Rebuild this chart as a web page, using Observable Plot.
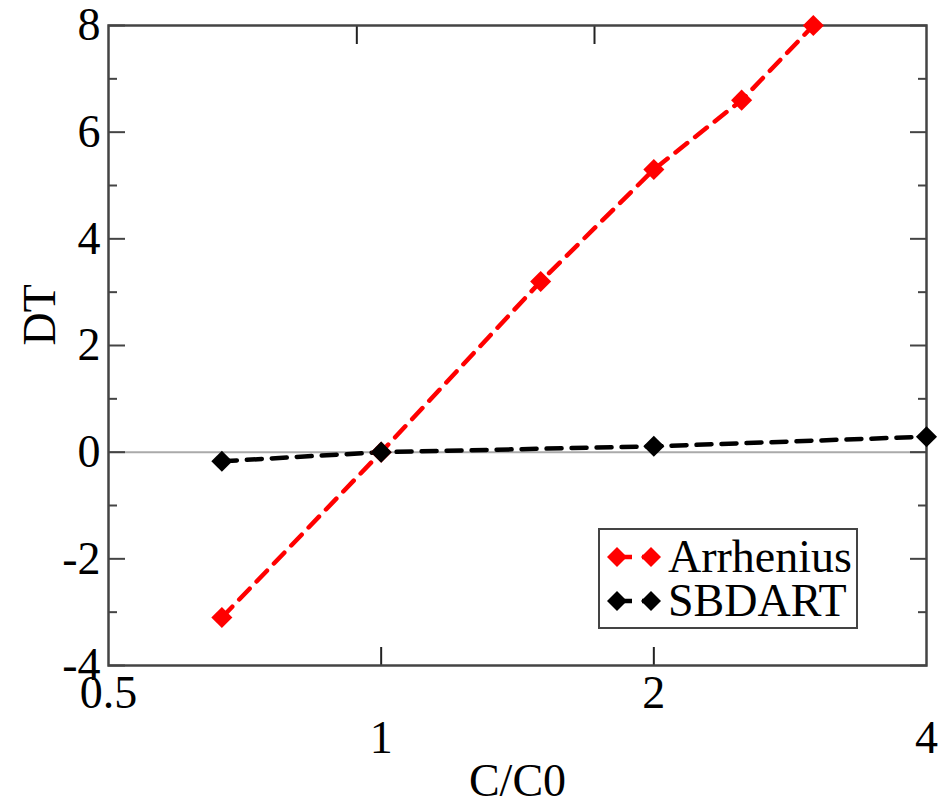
<!DOCTYPE html>
<html>
<head>
<meta charset="utf-8">
<script src="https://cdn.jsdelivr.net/npm/d3@7"></script>
<script src="https://cdn.jsdelivr.net/npm/@observablehq/plot@0.6"></script>
<style>
  body { margin: 0; background: white; }
  #wrap { position: relative; width: 949px; height: 804px; overflow: hidden; font-family: "Liberation Serif", serif; }
  #legend { position: absolute; left: 598px; top: 528px; width: 256px; height: 97px; border: 2px solid #444; background: white; }
  .row { position: absolute; left: 0; height: 42px; display: flex; align-items: center; }
  .row span { font-size: 46px; line-height: 42px; margin-left: 6px; color: #000; }
</style>
</head>
<body>
<div id="wrap"></div>
<script>
// Data
const seriesNames = ["Arrhenius", "SBDART"];
const seriesColors = ["#ff0000", "#000000"];
const arrX = [0.667, 1, 1.5, 2, 2.5, 3];
const arrY = [-3.1, 0, 3.2, 5.3, 6.6, 8.0];
const sbdX = [0.667, 1, 2, 4];
const sbdY = [-0.17, 0, 0.11, 0.29];

const yMajorTicks = [-4, -2, 0, 2, 4, 6, 8];
const yMinorTicks = [-3, -1, 1, 3, 5, 7];
const xTickLabelsHigh = [0.5, 2];
const xTickLabelsLow = [1, 4];
const xBottomTicks = [1, 2];
const xTopTicks = [0.94, 1.72];
const xLabel = "C/C0";
const yLabel = "DT";

const arr = arrX.map((x, i) => ({x, y: arrY[i]}));
const sbd = sbdX.map((x, i) => ({x, y: sbdY[i]}));

const FS = 46;
const axisColor = "#444";

const chart = Plot.plot({
  width: 949,
  height: 804,
  marginLeft: 108,
  marginRight: 23,
  marginTop: 25,
  marginBottom: 139,
  style: {fontFamily: "Liberation Serif, serif", background: "white", overflow: "visible"},
  x: {type: "log", base: 2, domain: [0.5, 4]},
  y: {domain: [-4, 8]},
  marks: [
    Plot.ruleY([0], {stroke: "#aaaaaa", strokeWidth: 2}),
    Plot.axisY(yMajorTicks, {anchor: "left", tickSize: -17, tickFormat: () => "", label: null, stroke: axisColor, strokeWidth: 2}),
    Plot.axisY(yMinorTicks, {anchor: "left", tickSize: -9, tickFormat: () => "", label: null, stroke: axisColor, strokeWidth: 2}),
    Plot.axisY(yMajorTicks, {anchor: "right", tickSize: -17, tickFormat: () => "", label: null, stroke: axisColor, strokeWidth: 2}),
    Plot.axisY(yMinorTicks, {anchor: "right", tickSize: -9, tickFormat: () => "", label: null, stroke: axisColor, strokeWidth: 2}),
    Plot.axisX(xBottomTicks, {anchor: "bottom", tickSize: -18, tickFormat: () => "", label: null, stroke: "#222", strokeWidth: 2}),
    Plot.axisX(xTopTicks, {anchor: "top", tickSize: -18, tickFormat: () => "", label: null, stroke: "#222", strokeWidth: 2}),
    Plot.frame({stroke: axisColor, strokeWidth: 2.5}),
    Plot.line(arr, {x: "x", y: "y", stroke: seriesColors[0], strokeWidth: 4.5, strokeDasharray: "15,10"}),
    Plot.line(sbd, {x: "x", y: "y", stroke: seriesColors[1], strokeWidth: 4.5, strokeDasharray: "15,10"}),
    Plot.dot(arr, {x: "x", y: "y", symbol: "diamond2", r: 9.5, fill: seriesColors[0], stroke: null}),
    Plot.dot(sbd, {x: "x", y: "y", symbol: "diamond2", r: 9.5, fill: seriesColors[1], stroke: null}),
    // y tick labels
    Plot.text(yMajorTicks, {y: d => d, text: d => String(d), frameAnchor: "left", textAnchor: "end", dx: -8, fontSize: FS, fill: "#000"}),
    // x tick labels (staggered as in the reference)
    Plot.text(xTickLabelsHigh, {x: d => d, text: d => String(d), frameAnchor: "bottom", dy: 42, fontSize: FS, fill: "#000"}),
    Plot.text(xTickLabelsLow, {x: d => d, text: d => String(d), frameAnchor: "bottom", dy: 87, fontSize: FS, fill: "#000"}),
    // axis labels
    Plot.text([xLabel], {text: d => d, frameAnchor: "bottom", dy: 130, fontSize: FS, fill: "#000"}),
    Plot.text([yLabel], {text: d => d, frameAnchor: "left", dx: -68, rotate: -90, fontSize: FS, fill: "#000"})
  ]
});

const wrap = document.getElementById("wrap");
wrap.appendChild(chart);

// Legend
const legend = document.createElement("div");
legend.id = "legend";
seriesNames.forEach((name, i) => {
  const row = document.createElement("div");
  row.className = "row";
  row.style.top = (i === 0 ? 6 : 50) + "px";
  const sw = d3.create("svg").attr("width", 62).attr("height", 30);
  sw.append("line").attr("x1", 17).attr("x2", 51).attr("y1", 15).attr("y2", 15)
    .attr("stroke", seriesColors[i]).attr("stroke-width", 4.5).attr("stroke-dasharray", "15,10");
  [17, 51].forEach(cx => {
    sw.append("path").attr("d", d3.symbol(d3.symbolDiamond2, Math.PI * 81)())
      .attr("transform", `translate(${cx},15)`).attr("fill", seriesColors[i]);
  });
  row.appendChild(sw.node());
  const t = document.createElement("span");
  t.textContent = name;
  row.appendChild(t);
  legend.appendChild(row);
});
wrap.appendChild(legend);
</script>
</body>
</html>
